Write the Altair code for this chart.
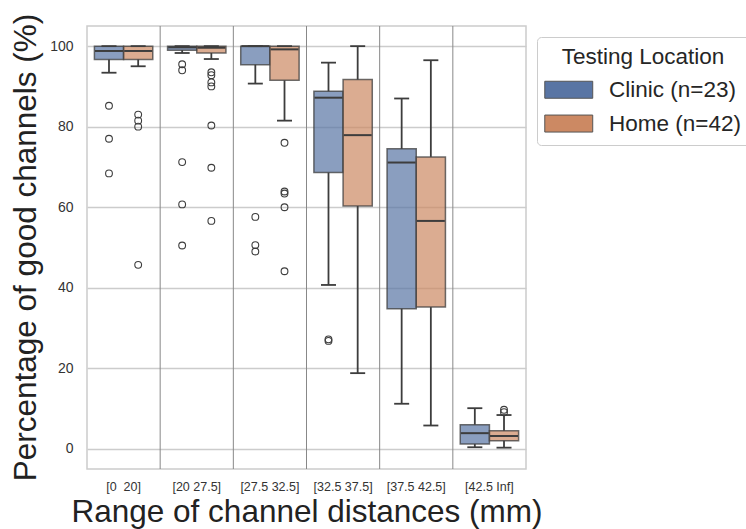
import altair as alt
import pandas as pd

cats = ["[0\u00a0 20]", "[20 27.5]", "[27.5 32.5]", "[32.5 37.5]", "[37.5 42.5]", "[42.5 Inf]"]
locs = ["Clinic (n=23)", "Home (n=42)"]

clinic_lo = [93.4, 98.3, 90.7, 40.7, 11.2, 0.4]
clinic_q1 = [96.7, 99.0, 95.4, 68.6, 34.8, 1.2]
clinic_med = [98.8, 99.7, 100.0, 87.2, 71.1, 3.9]
clinic_q3 = [100.0, 100.0, 100.0, 88.8, 74.5, 6.0]
clinic_hi = [100.0, 100.0, 100.0, 95.9, 87.0, 10.1]
clinic_out = [[85.2, 77.0, 68.4], [95.5, 94.0, 71.2, 60.7, 50.5], [57.6, 50.6, 49.0], [27.2, 26.8], [], []]

home_lo = [95.0, 96.8, 81.5, 18.8, 5.8, 0.3]
home_q1 = [96.7, 98.3, 91.5, 60.3, 35.2, 2.0]
home_med = [98.8, 99.6, 99.2, 77.9, 56.6, 3.2]
home_q3 = [100.0, 100.0, 100.0, 91.7, 72.5, 4.5]
home_hi = [100.0, 100.0, 100.0, 100.0, 96.5, 8.4]
home_out = [[83.0, 81.5, 80.0, 45.7], [93.5, 92.8, 91.0, 90.0, 80.3, 69.8, 56.6],
            [76.0, 63.9, 63.4, 60.0, 44.1], [], [], [9.7, 9.1]]

rows = []
for loc, lo, q1, med, q3, hi in [
    (locs[0], clinic_lo, clinic_q1, clinic_med, clinic_q3, clinic_hi),
    (locs[1], home_lo, home_q1, home_med, home_q3, home_hi),
]:
    for i, c in enumerate(cats):
        rows.append(dict(cat=c, loc=loc, lo=lo[i], q1=q1[i], med=med[i], q3=q3[i], hi=hi[i]))
box_df = pd.DataFrame(rows)

orows = []
for loc, outs in [(locs[0], clinic_out), (locs[1], home_out)]:
    for i, c in enumerate(cats):
        for v in outs[i]:
            orows.append(dict(cat=c, loc=loc, v=v))
out_df = pd.DataFrame(orows)

sep_df = pd.DataFrame({"cat": cats[1:]})

FONT = "Liberation Sans"
LINE = "#3d3d3d"
fill_colors = ["#5975A4", "#CC8963"]

x_axis = alt.Axis(
    labelFontSize=12.5, labelColor="#333333", labelPadding=21.5, labelBaseline="alphabetic",
    ticks=False, tickSize=0, domain=False, grid=False, labelAngle=0,
    titleFontSize=31.5, titleFontWeight="normal", titleColor="#222222",
    titleX=219.5, titleY=52.5, titleBaseline="alphabetic", titleAlign="center",
)
x_scale = alt.Scale(domain=cats, paddingInner=0, paddingOuter=0)
X_TITLE = "Range of channel distances (mm)"

y_axis = alt.Axis(
    values=[0, 20, 40, 60, 80, 100], labelFontSize=14, labelColor="#333333", labelPadding=14,
    ticks=False, tickSize=0, domain=False, grid=True, gridColor="#cccccc", gridWidth=1.3,
    titleFontSize=31.5, titleFontWeight="normal", titleColor="#222222",
    titleX=-52, titleY=221, titleAngle=270, titleBaseline="alphabetic", titleAlign="center",
)
y_scale = alt.Scale(domain=[-5, 105], nice=False, zero=False)
Y_TITLE = "Percentage of good channels (%)"


def X(**kw):
    return alt.X("cat:N", sort=cats, scale=x_scale, axis=x_axis, title=X_TITLE, **kw)


def Y(field):
    return alt.Y(f"{field}:Q", scale=y_scale, axis=y_axis, title=Y_TITLE)


XO = alt.XOffset("loc:N", sort=locs, scale=alt.Scale(domain=locs, paddingOuter=0.2535, paddingInner=0))

seps = alt.Chart(sep_df).mark_rule(color="#888888", strokeWidth=1).encode(x=X(bandPosition=0))

boxes = alt.Chart(box_df).mark_bar(
    fillOpacity=0.7, stroke=LINE, strokeOpacity=0.75, strokeWidth=1.5
).encode(
    x=X(), xOffset=XO, y=Y("q1"), y2="q3:Q",
    color=alt.Color(
        "loc:N", sort=locs, scale=alt.Scale(domain=locs, range=fill_colors),
        legend=alt.Legend(
            orient="none", legendX=450, legendY=11, title="Testing Location",
            titleFontSize=22.5, titleFontWeight="normal", titleColor="#262626",
            titleAnchor="middle", titlePadding=10,
            labelFontSize=22.5, labelColor="#262626", labelOffset=29,
            symbolType="M-2.82,-1H2.82V1H-2.82Z", symbolSize=289, symbolOffset=11.5,
            symbolOpacity=1, symbolStrokeColor="#555555", symbolStrokeWidth=1,
            rowPadding=10.8, padding=9, strokeColor="#cccccc", fillColor="white",
            cornerRadius=4,
        ),
    ),
)

wlow = alt.Chart(box_df).mark_rule(color=LINE, strokeWidth=1.8).encode(
    x=X(), xOffset=XO, y=Y("lo"), y2="q1:Q")
whigh = alt.Chart(box_df).mark_rule(color=LINE, strokeWidth=1.8).encode(
    x=X(), xOffset=XO, y=Y("q3"), y2="hi:Q")
cap_lo = alt.Chart(box_df).mark_tick(color=LINE, size=15, thickness=1.8, opacity=1).encode(
    x=X(), xOffset=XO, y=Y("lo"))
cap_hi = alt.Chart(box_df).mark_tick(color=LINE, size=15, thickness=1.8, opacity=1).encode(
    x=X(), xOffset=XO, y=Y("hi"))
medians = alt.Chart(box_df).mark_tick(color=LINE, size=28, thickness=2, opacity=1).encode(
    x=X(), xOffset=XO, y=Y("med"))
outliers = alt.Chart(out_df).mark_point(
    shape="circle", filled=False, size=46, color=LINE, strokeWidth=1.1, opacity=1
).encode(x=X(), xOffset=XO, y=Y("v"))

chart = alt.layer(seps, boxes, wlow, whigh, cap_lo, cap_hi, medians, outliers).properties(
    width=439, height=443,
    autosize=alt.AutoSizeParams(type="none"),
    padding={"left": 87, "top": 26, "right": 220, "bottom": 60},
).configure(font=FONT).configure_view(stroke="#cccccc", strokeWidth=1.5)

chart.save("out.html", embed_options={"renderer": "svg", "actions": False})
